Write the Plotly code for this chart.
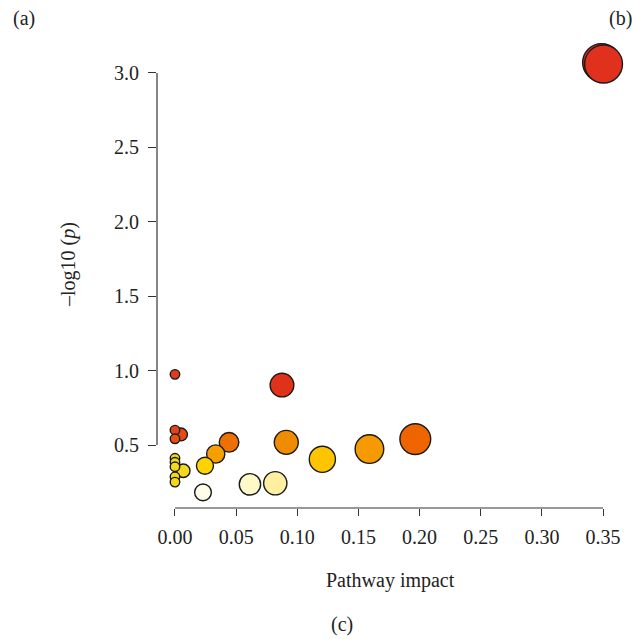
import numpy as np
import plotly.graph_objects as go

# Pathway impact (x) and -log10(p) (y)
impact = [0.3488, 0.3504, 0.0875, 0.0, 0.0, 0.0049, 0.0, 0.0442, 0.091, 0.1965,
          0.159, 0.0333, 0.1205, 0.0245, 0.0, 0.0, 0.0, 0.0068, 0.0, 0.0,
          0.082, 0.0613, 0.0229]
neglogp = [3.07, 3.06, 0.903, 0.975, 0.600, 0.571, 0.542, 0.518, 0.518, 0.540,
           0.473, 0.440, 0.404, 0.361, 0.411, 0.384, 0.354, 0.327, 0.287, 0.251,
           0.243, 0.236, 0.182]
colors = ["#E0301E", "#E0301E", "#E03218", "#E03A1A", "#E2441A", "#E54A12", "#E85210",
          "#EE7000", "#F08C00", "#EE6500", "#F59A00", "#F5A000", "#FFC400", "#FFD400",
          "#F5D81A", "#F5D81A", "#F5D81A", "#F5D820", "#F5D81A", "#F5D81A",
          "#FEF0A0", "#FFF8C8", "#FFFCEA"]

xticks = [0.00, 0.05, 0.10, 0.15, 0.20, 0.25, 0.30, 0.35]
yticks = [0.5, 1.0, 1.5, 2.0, 2.5, 3.0]

sizes = [9.5 + 48 * np.sqrt(v) for v in impact]

# draw larger bubbles first so small ones sit on top (stable for near-equal sizes)
order = sorted(range(len(impact)), key=lambda i: -round(sizes[i] / 3))

font = dict(family="Liberation Serif", size=20, color="#222222")

fig = go.Figure()
fig.add_trace(go.Scatter(
    x=[impact[i] for i in order],
    y=[neglogp[i] for i in order],
    mode="markers",
    marker=dict(size=[sizes[i] for i in order],
                color=[colors[i] for i in order],
                line=dict(color="#1a1a1a", width=1.4),
                opacity=1),
    cliponaxis=False,
    hoverinfo="x+y",
))

fig.update_xaxes(range=[-0.0147, 0.3606], tickvals=xticks,
                 ticktext=[f"{v:.2f}" for v in xticks],
                 ticks="outside", ticklen=7, tickcolor="#333333", tickwidth=1,
                 ticklabelstandoff=4,
                 showgrid=False, zeroline=False, showline=False,
                 tickfont=font)
fig.update_yaxes(range=[0.077, 3.161], tickvals=yticks,
                 ticktext=[f"{v:.1f}" for v in yticks],
                 ticks="outside", ticklen=8, tickcolor="#333333", tickwidth=1,
                 ticklabelstandoff=5,
                 showgrid=False, zeroline=False, showline=False,
                 tickfont=font)

fig.add_shape(type="line", xref="paper", yref="y", x0=0, x1=0, y0=yticks[0], y1=yticks[-1],
              line=dict(color="#333333", width=1.2))
fig.add_shape(type="line", xref="x", yref="paper", x0=xticks[0], x1=xticks[-1], y0=0, y1=0,
              line=dict(color="#333333", width=1.2))

W, H = 634, 639
L, R, T, B = 157, 18, 49, 131
pw, ph = W - L - R, H - T - B

def px(xp, yp):
    return (xp - L) / pw, (H - B - yp) / ph

anns = [
    ("Pathway impact", 390, 580, 0),
    ("(c)", 342, 624, 0),
    ("(a)", 24, 18, 0),
    ("(b)", 620, 18, 0),
    ("–log10 (<i>p</i>)", 68, 265, -90),
]
for text, x, y, ang in anns:
    xp, yp = px(x, y)
    fig.add_annotation(text=text, x=xp, y=yp, xref="paper", yref="paper",
                       showarrow=False, textangle=ang, font=font,
                       xanchor="center", yanchor="middle")

fig.update_layout(width=W, height=H, margin=dict(l=L, r=R, t=T, b=B),
                  paper_bgcolor="white", plot_bgcolor="white",
                  showlegend=False, font=font)

fig.write_html("out.html")
